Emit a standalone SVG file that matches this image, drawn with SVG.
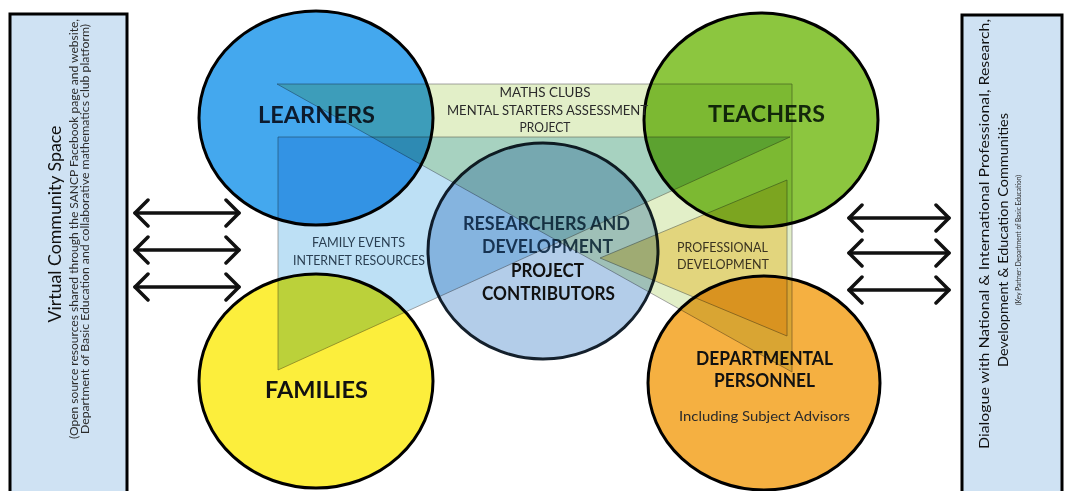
<svg xmlns="http://www.w3.org/2000/svg" width="1067" height="491" viewBox="0 0 1067 491">
<style>
.box{fill:#cfe2f3;stroke:#000;stroke-width:3}
.circ{stroke:#000;stroke-width:3}
.tri{mix-blend-mode:multiply;stroke:#7f7f7f;stroke-width:1;stroke-opacity:.7}
.t{font-family:Lato,"Open Sans","Liberation Sans",sans-serif;text-anchor:middle;fill:#111}
.b{font-weight:700}
.sm{fill:#2b2b2b}
.arrow{stroke:#111;stroke-width:3.5;fill:none;stroke-linecap:round;marker-start:url(#chev);marker-end:url(#chev)}
</style>
<defs>
<marker id="chev" markerUnits="userSpaceOnUse" viewBox="0 0 18 30" markerWidth="18" markerHeight="30" refX="15" refY="15" orient="auto-start-reverse">
<path d="M2,2 L15,15 L2,28" fill="none" stroke="#111" stroke-width="3.5" stroke-linecap="round" stroke-linejoin="round"/>
</marker>
</defs>
<rect width="1067" height="491" fill="#fff"/>

<g id="box-virtual">
<rect class="box" x="10" y="14" width="117" height="490"/>
<text class="t" font-size="16.5" transform="translate(61,224) rotate(-90)" textLength="197" lengthAdjust="spacingAndGlyphs">Virtual Community Space</text>
<text class="t sm" font-size="10.5" transform="translate(78,229) rotate(-90)" textLength="420" lengthAdjust="spacingAndGlyphs">(Open source resources shared through the SANCP Facebook page and website,</text>
<text class="t sm" font-size="10.5" transform="translate(89,229) rotate(-90)" textLength="410" lengthAdjust="spacingAndGlyphs">Department of Basic Education and collaborative mathematics club platform)</text>
</g>

<g id="box-dialogue">
<rect class="box" x="962" y="15" width="100" height="490"/>
<text class="t" font-size="14" transform="translate(989,234) rotate(-90)" textLength="430" lengthAdjust="spacingAndGlyphs">Dialogue with National &amp; International Professional, Research,</text>
<text class="t" font-size="14" transform="translate(1008,240) rotate(-90)" textLength="254" lengthAdjust="spacingAndGlyphs">Development &amp; Education Communities</text>
<text class="t sm" font-size="8" transform="translate(1021,240) rotate(-90)" textLength="130" lengthAdjust="spacingAndGlyphs">(Key Partner: Department of Basic Education)</text>
</g>

<g id="node-learners">
<ellipse class="circ" cx="316" cy="118" rx="117" ry="107" fill="#44a8ee"/>
<text class="t b" font-size="23" x="316.5" y="123" style="fill:#0d1b2e" textLength="117" lengthAdjust="spacingAndGlyphs">LEARNERS</text>
</g>
<g id="node-teachers">
<ellipse class="circ" cx="761" cy="120" rx="117" ry="107" fill="#8cc63f"/>
<text class="t b" font-size="23" x="766.5" y="122" style="fill:#14280c" textLength="117" lengthAdjust="spacingAndGlyphs">TEACHERS</text>
</g>
<g id="node-families">
<ellipse class="circ" cx="316" cy="381" rx="117" ry="107" fill="#fcee3c"/>
<text class="t b" font-size="23" x="316.5" y="398" textLength="103" lengthAdjust="spacingAndGlyphs">FAMILIES</text>
</g>
<g id="node-departmental">
<ellipse class="circ" cx="764" cy="383" rx="116" ry="107" fill="#f5b041"/>
<text class="t b" font-size="18.5" x="764.5" y="365" textLength="137" lengthAdjust="spacingAndGlyphs">DEPARTMENTAL</text>
<text class="t b" font-size="18.5" x="764.5" y="387" textLength="101" lengthAdjust="spacingAndGlyphs">PERSONNEL</text>
<text class="t sm" font-size="12.5" x="764.5" y="421" textLength="171" lengthAdjust="spacingAndGlyphs">Including Subject Advisors</text>
</g>
<g id="node-researchers">
<ellipse cx="543" cy="251" rx="115" ry="108" fill="#b3cde9" stroke="#14202c" stroke-width="3"/>
<text class="t b" font-size="18" x="546.5" y="230" style="fill:#1f3a55" textLength="167" lengthAdjust="spacingAndGlyphs">RESEARCHERS AND</text>
<text class="t b" font-size="18" x="547.5" y="253" style="fill:#1f3a55" textLength="131" lengthAdjust="spacingAndGlyphs">DEVELOPMENT</text>
<text class="t b" font-size="18" x="547.5" y="277" textLength="73" lengthAdjust="spacingAndGlyphs">PROJECT</text>
<text class="t b" font-size="18" x="548.5" y="300" textLength="133" lengthAdjust="spacingAndGlyphs">CONTRIBUTORS</text>
</g>

<g id="zone-maths-clubs">
<polygon class="tri" points="277,84 792,84 792,372" fill="#e2efc8"/>
<text class="t sm" font-size="12.5" x="545" y="97" textLength="91" lengthAdjust="spacingAndGlyphs">MATHS CLUBS</text>
<text class="t sm" font-size="12.5" x="547.5" y="115" textLength="201" lengthAdjust="spacingAndGlyphs">MENTAL STARTERS ASSESSMENT</text>
<text class="t sm" font-size="12.5" x="545" y="132" textLength="51" lengthAdjust="spacingAndGlyphs">PROJECT</text>
</g>
<g id="zone-family-events">
<polygon class="tri" points="278,137 278,370 790,137" fill="#bde0f5"/>
<text class="t" font-size="12.5" x="358.5" y="247" style="fill:#2a3f52" textLength="93" lengthAdjust="spacingAndGlyphs">FAMILY EVENTS</text>
<text class="t" font-size="12.5" x="359" y="265" style="fill:#2a3f52" textLength="132" lengthAdjust="spacingAndGlyphs">INTERNET RESOURCES</text>
</g>
<g id="zone-professional">
<polygon class="tri" points="600,258 787,180 787,336" fill="#ffe4a0"/>
<text class="t" font-size="12.5" x="722.5" y="252" style="fill:#3a3320" textLength="91" lengthAdjust="spacingAndGlyphs">PROFESSIONAL</text>
<text class="t" font-size="12.5" x="723" y="269" style="fill:#3a3320" textLength="92" lengthAdjust="spacingAndGlyphs">DEVELOPMENT</text>
</g>

<g id="connectors">
<line class="arrow" x1="135" y1="213" x2="239" y2="213"/>
<line class="arrow" x1="135" y1="250" x2="239" y2="250"/>
<line class="arrow" x1="135" y1="287" x2="239" y2="287"/>
<line class="arrow" x1="849" y1="218" x2="949" y2="218"/>
<line class="arrow" x1="849" y1="253" x2="949" y2="253"/>
<line class="arrow" x1="849" y1="290" x2="949" y2="290"/>
</g>
</svg>
